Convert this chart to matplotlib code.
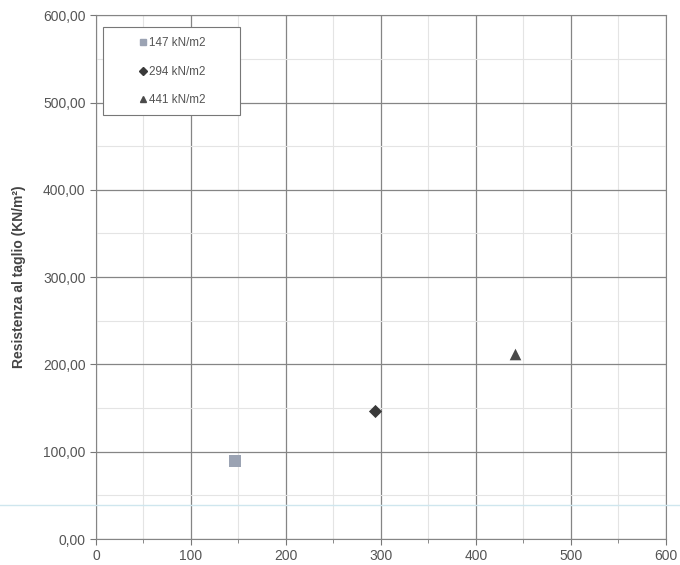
import matplotlib.pyplot as plt
from matplotlib.ticker import MultipleLocator, FuncFormatter
from matplotlib.lines import Line2D
from matplotlib.patches import Rectangle

# carichi normali (kN/m2) e resistenza al taglio
labels = ['147 kN/m2', '294 kN/m2', '441 kN/m2']
sigma = [147, 294, 441]
tau = [89, 147, 212]
markers = ['s', 'D', '^']
colors = ['#9ba3b3', '#3a3a3a', '#4a4a4a']
sizes = [70, 45, 70]

plt.rcParams['font.family'] = ['Liberation Sans', 'DejaVu Sans']

fig = plt.figure(figsize=(6.8, 5.65), dpi=100)
ax = fig.add_axes([0.141, 0.046, 0.838, 0.927])

for x, y, m, c, s, lab in zip(sigma, tau, markers, colors, sizes, labels):
    ax.scatter([x], [y], marker=m, color=c, s=s, label=lab, zorder=3, linewidths=0)

ax.set_xlim(0, 600)
ax.set_ylim(0, 600)
ax.xaxis.set_major_locator(MultipleLocator(100))
ax.xaxis.set_minor_locator(MultipleLocator(50))
ax.yaxis.set_major_locator(MultipleLocator(100))
ax.yaxis.set_minor_locator(MultipleLocator(50))
ax.yaxis.set_major_formatter(FuncFormatter(lambda v, p: f'{v:.2f}'.replace('.', ',')))

ax.grid(which='major', color='#858585', linewidth=0.9)
ax.grid(which='minor', color='#e4e4e4', linewidth=0.8)
ax.set_axisbelow(True)
ax.tick_params(axis='both', which='major', direction='out', length=4, colors='#777777',
               labelcolor='#555555', labelsize=10)
ax.tick_params(axis='x', which='minor', direction='out', length=3, colors='#777777')
ax.tick_params(axis='y', which='minor', length=0)
for sp in ax.spines.values():
    sp.set_color('#858585')

ax.set_ylabel('Resistenza al taglio (KN/m²)', fontsize=10, fontweight='bold', color='#444444', labelpad=12)

# riquadro della legenda
ax.add_patch(Rectangle((0.012, 0.809), 0.241, 0.168, transform=ax.transAxes, facecolor='white',
                       edgecolor='#777777', linewidth=0.8, zorder=4))

handles = [Line2D([], [], marker=m, color=c, linestyle='', markersize=4) for m, c in zip(markers, colors)]
leg = ax.legend(handles, labels, loc='upper left', bbox_to_anchor=(0.057, 0.977), fontsize=8.4,
                frameon=False, labelspacing=1.42, borderpad=0.85, handletextpad=0.1,
                handlelength=0.8, borderaxespad=0)
leg.set_zorder(5)
for t in leg.get_texts():
    t.set_color('#555555')

# traccia di scansione azzurra
fig.add_artist(Line2D([0, 1], [0.106, 0.106], color='#cfe6ee', linewidth=1, transform=fig.transFigure))

fig.savefig('out.png', dpi=100)
